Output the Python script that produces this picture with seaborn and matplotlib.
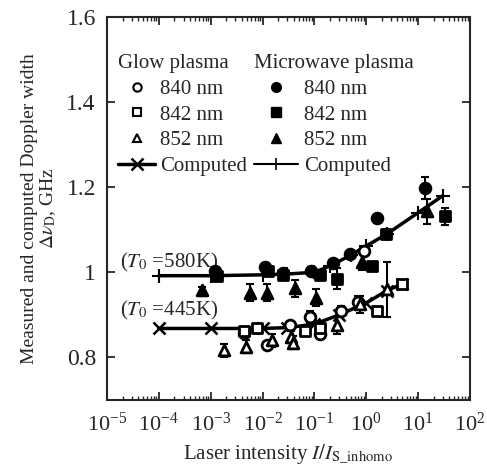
import numpy as np
import pandas as pd
import matplotlib as mpl
mpl.use('Agg')
import matplotlib.pyplot as plt
import matplotlib.ticker as ticker
from matplotlib.lines import Line2D
import seaborn as sns

# measured points, microwave plasma (filled markers)
mw840_x = [1.2e-3, 0.011, 0.025, 0.085, 0.23, 0.49, 1.6, 13.5]
mw840_y = [1.004, 1.012, 0.998, 1.004, 1.022, 1.043, 1.128, 1.198]
mw840_e = [0.008, 0.010, 0.008, 0.008, 0.008, 0.008, 0.0, 0.025]

mw842_x = [1.3e-3, 0.013, 0.025, 0.13, 0.27, 1.28, 2.4, 33]
mw842_y = [0.992, 1.004, 0.993, 0.993, 0.985, 1.015, 1.090, 1.132]
mw842_e = [0.008, 0.008, 0.008, 0.010, 0.025, 0.008, 0.008, 0.020]

mw852_x = [6.8e-4, 5.7e-3, 0.012, 0.043, 0.107, 0.81, 15]
mw852_y = [0.958, 0.952, 0.952, 0.962, 0.940, 1.025, 1.143]
mw852_e = [0.008, 0.020, 0.020, 0.020, 0.020, 0.020, 0.030]

# measured points, glow plasma (open markers)
gl840_x = [4.3e-3, 0.012, 0.034, 0.083, 0.13, 0.32, 0.7, 0.9]
gl840_y = [0.858, 0.829, 0.875, 0.895, 0.856, 0.910, 0.930, 1.050]
gl840_e = [0.010, 0.008, 0.010, 0.015, 0.010, 0.010, 0.015, 0.010]

gl842_x = [4.3e-3, 7.7e-3, 0.065, 0.13, 1.6, 5.0]
gl842_y = [0.862, 0.868, 0.862, 0.870, 0.910, 0.973]
gl842_e = [0.010, 0.008, 0.010, 0.015, 0.008, 0.008]

gl852_x = [1.8e-3, 4.8e-3, 0.015, 0.035, 0.038, 0.27, 0.75, 2.5]
gl852_y = [0.817, 0.825, 0.840, 0.848, 0.835, 0.875, 0.925, 0.960]
gl852_e = [0.015, 0.015, 0.015, 0.015, 0.015, 0.020, 0.020, 0.065]

# computed curves
comp_gl_x = [1e-4, 1e-3, 1e-2, 3e-2, 0.1, 0.3, 1, 2.5, 5]
comp_gl_y = [0.868, 0.868, 0.868, 0.870, 0.878, 0.900, 0.928, 0.957, 0.973]
comp_mw_x = [1e-4, 1e-3, 1e-2, 3e-2, 0.1, 0.2, 0.5, 1, 2.5, 10, 30]
comp_mw_y = [0.992, 0.992, 0.994, 0.996, 1.000, 1.015, 1.040, 1.062, 1.090, 1.140, 1.180]

sns.set_style('ticks')
plt.rcParams['font.family'] = ['Liberation Serif', 'DejaVu Serif']
mpl.rcParams['mathtext.fontset'] = 'stix'
mpl.rcParams['xtick.direction'] = 'in'
mpl.rcParams['ytick.direction'] = 'in'
mpl.rcParams['axes.linewidth'] = 1.5

fig = plt.figure(figsize=(4.87, 4.70), dpi=100)
ax = fig.add_axes([0.2197, 0.149, 0.7453, 0.815])

# computed lines
df_gl = pd.DataFrame({'x': comp_gl_x, 'y': comp_gl_y})
df_mw = pd.DataFrame({'x': comp_mw_x, 'y': comp_mw_y})
sns.lineplot(data=df_gl, x='x', y='y', ax=ax, color='black', lw=2.5,
             marker='x', markersize=9, markeredgewidth=1.8, markeredgecolor='black')
sns.lineplot(data=df_mw, x='x', y='y', ax=ax, color='black', lw=2.5,
             marker='+', markersize=10, markeredgewidth=1.5, markeredgecolor='black')

series = [
    (mw840_x, mw840_y, mw840_e, 'o', True),
    (mw842_x, mw842_y, mw842_e, 's', True),
    (mw852_x, mw852_y, mw852_e, '^', True),
    (gl840_x, gl840_y, gl840_e, 'o', False),
    (gl842_x, gl842_y, gl842_e, 's', False),
    (gl852_x, gl852_y, gl852_e, '^', False),
]
for xs, ys, es, mk, filled in series:
    ax.errorbar(xs, ys, yerr=es, fmt='none', ecolor='black', elinewidth=1.5,
                capsize=3, capthick=1.5, zorder=3)
    df = pd.DataFrame({'x': xs, 'y': ys})
    sns.scatterplot(data=df, x='x', y='y', ax=ax, marker=mk, s=60,
                    facecolor='black' if filled else 'white',
                    edgecolor='black', linewidth=2.0, zorder=4)

ax.set_xscale('log')
ax.set_xlim(1e-5, 1e2)
ax.set_ylim(0.7, 1.6)
ax.set_yticks([0.8, 1.0, 1.2, 1.4, 1.6])
ax.yaxis.set_major_formatter(ticker.FuncFormatter(lambda v, p: f'{v:g}'))
ax.xaxis.set_major_locator(ticker.LogLocator(base=10, numticks=10))
ax.xaxis.set_minor_locator(ticker.LogLocator(base=10, subs=np.arange(2, 10), numticks=20))
ax.xaxis.set_minor_formatter(ticker.NullFormatter())
ax.tick_params(axis='both', which='major', length=6, width=1.3,
               top=True, right=True)
ax.tick_params(axis='y', which='major', labelsize=17, pad=8)
ax.tick_params(axis='x', which='major', labelsize=16, pad=9)
ax.tick_params(axis='x', which='minor', length=3, width=1, top=True)

ax.set_xlabel(r'Laser intensity $\mathit{I/I}_{\mathrm{S\_inhomo}}$', fontsize=15, labelpad=5)
ax.set_ylabel('Measured and computed Doppler width\n' + r'$\Delta\nu_{\mathrm{D}}$, GHz',
              fontsize=14, linespacing=1.0, labelpad=6)

ax.text(1.75e-5, 1.024, r'($T_0$ =580K)', fontsize=15, va='center')
ax.text(1.75e-5, 0.910, r'($T_0$ =445K)', fontsize=15, va='center')

# legends
gl_handles = [
    Line2D([], [], ls='none', marker='o', mfc='white', mec='black', mew=1.5, ms=6),
    Line2D([], [], ls='none', marker='s', mfc='white', mec='black', mew=1.5, ms=6),
    Line2D([], [], ls='none', marker='^', mfc='white', mec='black', mew=1.5, ms=6),
    Line2D([], [], color='black', lw=2.5, marker='x', ms=9, mew=1.8),
]
mw_handles = [
    Line2D([], [], ls='none', marker='o', mfc='black', mec='black', ms=7),
    Line2D([], [], ls='none', marker='s', mfc='black', mec='black', ms=7),
    Line2D([], [], ls='none', marker='^', mfc='black', mec='black', ms=7),
    Line2D([], [], color='black', lw=1.5, marker='+', ms=9, mew=1.2),
]
labels = ['840 nm', '842 nm', '852 nm', 'Computed']
leg1 = ax.legend(gl_handles, labels, title='Glow plasma', loc='upper left',
                 bbox_to_anchor=(-0.003, 0.935), frameon=False, fontsize=15,
                 title_fontsize=15, handlelength=1.75, handletextpad=0.25,
                 labelspacing=0.29, borderaxespad=0.2, alignment='left')
ax.add_artist(leg1)
leg2 = ax.legend(mw_handles, labels, title='Microwave plasma', loc='upper left',
                 bbox_to_anchor=(0.37, 0.935), frameon=False, fontsize=15,
                 title_fontsize=15, handlelength=2.1, handletextpad=0.3,
                 labelspacing=0.29, borderaxespad=0.2, alignment='left')

plt.savefig('out.png', dpi=100)
